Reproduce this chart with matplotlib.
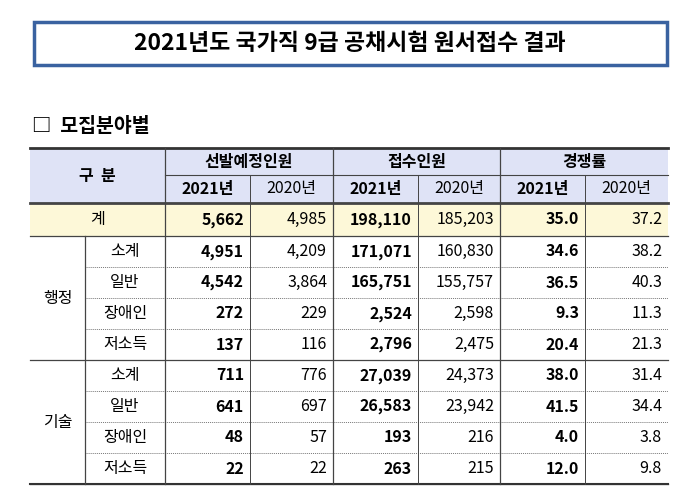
import matplotlib
matplotlib.use("Agg")
import matplotlib.pyplot as plt
from matplotlib.patches import Rectangle

plt.rcParams['font.family'] = 'Noto Sans CJK KR'

title = "2021년도 국가직 9급 공채시험 원서접수 결과"
section = "□  모집분야별"
col_groups = ["선발예정인원", "접수인원", "경쟁률"]
years = ["2021년", "2020년"]
groups = ["행정", "기술"]
sub_labels = ["소계", "일반", "장애인", "저소득"]
total_row = ["5,662", "4,985", "198,110", "185,203", "35.0", "37.2"]
admin_rows = [
    ["4,951", "4,209", "171,071", "160,830", "34.6", "38.2"],
    ["4,542", "3,864", "165,751", "155,757", "36.5", "40.3"],
    ["272", "229", "2,524", "2,598", "9.3", "11.3"],
    ["137", "116", "2,796", "2,475", "20.4", "21.3"],
]
tech_rows = [
    ["711", "776", "27,039", "24,373", "38.0", "31.4"],
    ["641", "697", "26,583", "23,942", "41.5", "34.4"],
    ["48", "57", "193", "216", "4.0", "3.8"],
    ["22", "22", "263", "215", "12.0", "9.8"],
]

fig = plt.figure(figsize=(6.82, 4.97), dpi=100)
ax = fig.add_axes([0, 0, 1, 1])
ax.set_xlim(0, 682); ax.set_ylim(497, 0); ax.axis('off')

# title box
ax.add_patch(Rectangle((34, 22), 633, 43, fill=False, ec='#3a62a0', lw=2.5))
ax.text(350, 44, title, ha='center', va='center', fontsize=16.5, fontweight='bold')
ax.text(32, 126, section, ha='left', va='center', fontsize=14, fontweight='bold')

X0, XG, XS = 30, 85, 165
xs = [165, 250, 333, 418, 500, 585, 668]
yh0, yh1, yh2 = 148, 175, 203
y_tot = 236
rh = 31
hdr_bg = '#dfe3f6'
ax.add_patch(Rectangle((X0, yh0), 668 - X0, yh2 - yh0, color=hdr_bg, lw=0))
ax.add_patch(Rectangle((X0, yh2), 668 - X0, y_tot - yh2, color='#fdf8d8', lw=0))

fs = 11.5
ax.text((X0 + XS) / 2, (yh0 + yh2) / 2, "구  분", ha='center', va='center', fontsize=fs, fontweight='bold')
for i, g in enumerate(col_groups):
    ax.text((xs[2*i] + xs[2*i+2]) / 2, (yh0 + yh1) / 2, g, ha='center', va='center', fontsize=fs, fontweight='bold')
    for j, yv in enumerate(years):
        ax.text((xs[2*i+j] + xs[2*i+j+1]) / 2, (yh1 + yh2) / 2, yv, ha='center', va='center',
                fontsize=fs, fontweight='bold' if j == 0 else 'normal')

def row(vals, yc):
    for k, v in enumerate(vals):
        ax.text(xs[k+1] - 6, yc, v, ha='right', va='center', fontsize=fs,
                fontweight='bold' if k % 2 == 0 else 'normal')

ax.text((X0 + XS) / 2, (yh2 + y_tot) / 2, "계", ha='center', va='center', fontsize=fs)
row(total_row, (yh2 + y_tot) / 2)

ytop = y_tot
for gi, (g, rows) in enumerate(zip(groups, [admin_rows, tech_rows])):
    ax.text((X0 + XG) / 2, ytop + 2 * rh, g, ha='center', va='center', fontsize=fs)
    for ri, (lab, vals) in enumerate(zip(sub_labels, rows)):
        yc = ytop + ri * rh + rh / 2
        ax.text((XG + XS) / 2, yc, lab, ha='center', va='center', fontsize=fs)
        row(vals, yc)
        if ri > 0:
            ax.plot([XG, 668], [ytop + ri * rh] * 2, color='#777777', lw=0.7, ls=(0, (1, 1)))
    ytop += 4 * rh
    ax.plot([X0, 668], [ytop] * 2, color='#444444', lw=0.9)
ybot = ytop

# lines
ax.plot([X0, 668], [yh0, yh0], color='#333333', lw=2)
ax.plot([XS, 668], [yh1, yh1], color='#444444', lw=0.8)
ax.plot([X0, 668], [yh2, yh2], color='#444444', lw=2)
ax.plot([X0, 668], [y_tot, y_tot], color='#444444', lw=0.9)
ax.plot([X0, 668], [ybot, ybot], color='#333333', lw=1.5)
ax.plot([XG, XG], [y_tot, ybot], color='#444444', lw=0.9)
for k, x in enumerate(xs[:-1]):
    top = yh0 if k % 2 == 0 else yh1
    ax.plot([x, x], [top, ybot], color='#444444', lw=0.9 if k % 2 == 0 else 0.7)

fig.savefig("out.png", dpi=100)
